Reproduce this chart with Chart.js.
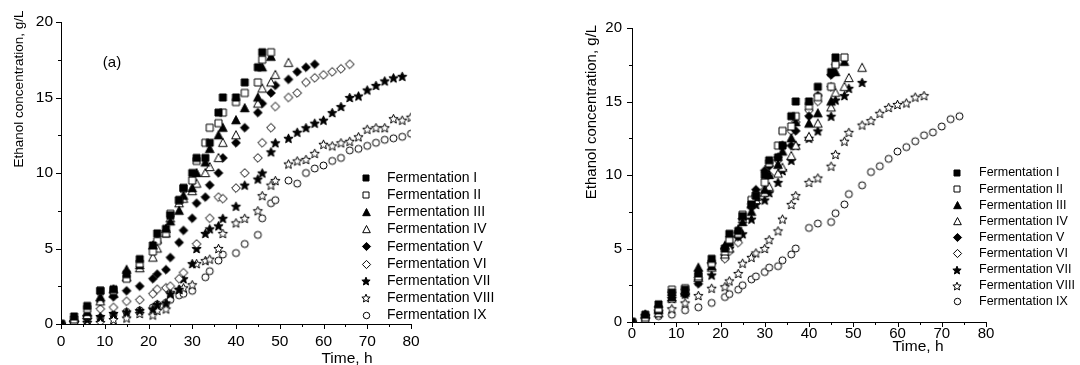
<!DOCTYPE html>
<html>
<head>
<meta charset="utf-8">
<script src="https://cdn.jsdelivr.net/npm/chart.js@4.4.1/dist/chart.umd.min.js"></script>
<style>
  html, body { margin: 0; padding: 0; background: #fff; overflow: hidden; }
  #wrap { position: relative; width: 1080px; height: 365px; overflow: hidden; }
  .box { position: absolute; top: 0; width: 540px; height: 375px; }
  #boxA { left: 0; }
  #boxB { left: 540px; }
</style>
</head>
<body>
<div id="wrap">
  <div class="box" id="boxA"><canvas id="chartA" width="540" height="375"></canvas></div>
  <div class="box" id="boxB"><canvas id="chartB" width="540" height="375"></canvas></div>
</div>
<script>
// sampling times (h), shared by every series; a series stops where its values stop
const times = [0,3,6,9,12,15,18,21,22,24,25,27,28,30,31,33,34,36,37,40,42,45,46,48,49,52,54,56,58,60,62,64,66,68,70,72,74,76,78,80];

const seriesLabels = ['Fermentation I','Fermentation II','Fermentation III','Fermentation IV','Fermentation V',
  'Fermentation VI','Fermentation VII','Fermentation VIII','Fermentation IX'];

// panel (a) - ethanol, g/L
const fermA1 = [0,0.5,1.2,2.2,2.3,3.3,4.3,5.2,6.0,6.3,7.2,8.2,9.0,10.0,11.0,11.0,12.0,14.0,15.0,15.0,16.0,17.0,18.0];
const fermA2 = [0,0.3,1.0,2.2,2.2,3.0,4.0,4.8,5.5,6.0,7.3,8.2,9.0,9.5,10.8,12.0,13.0,13.3,14.0,14.7,15.3,16.0,17.5,18.0];
const fermA3 = [0,0.4,0.8,1.8,2.0,3.6,3.9,5.2,5.6,6.3,6.8,7.5,8.5,9.0,10.0,10.7,11.6,12.5,13.0,13.5,14.3,15.0,17.0,17.7];
const fermA4 = [0,0.2,0.6,1.5,2.3,3.1,3.7,4.4,5.0,6.0,7.0,8.0,8.3,8.8,9.3,10.0,10.4,11.0,12.0,12.5,null,14.6,15.6,16.0,16.5,17.3];
const fermA5 = [0,0.2,0.5,1.5,1.8,2.2,2.5,3.0,3.3,3.6,4.4,5.4,6.2,7.0,8.0,8.4,9.2,10.0,11.0,12.0,13.0,14.0,14.6,15.3,15.8,16.2,16.7,17.0,17.2];
const fermA6 = [0,0.2,0.5,1.0,1.1,1.5,1.6,2.0,2.3,2.4,2.5,3.0,3.4,null,5.3,null,7.0,8.4,8.3,9.0,10.0,11.0,12.0,13.0,14.4,15.0,15.3,16.0,16.3,16.5,16.7,16.9,17.2];
const fermA7 = [0,0.1,0.3,0.5,0.7,0.8,0.9,1.0,1.3,1.4,2.0,2.3,3.0,4.0,5.0,6.0,6.3,6.5,7.0,7.8,9.2,9.6,10.0,11.4,12.0,12.3,12.7,13.0,13.3,13.5,14.0,14.4,15.0,15.1,15.5,15.8,16.1,16.3,16.4];
const fermA8 = [0,0.1,0.1,0.1,0.3,0.4,0.7,0.6,0.9,1.0,2.1,2.3,2.4,2.6,4.0,4.2,4.3,5.0,6.0,6.7,7.0,7.5,8.5,9.2,9.5,10.6,10.8,10.9,11.3,11.9,11.8,12.0,12.1,12.4,12.9,13.0,13.0,13.6,13.5,13.7];
const fermA9 = [0,0.1,0.2,0.4,0.6,0.8,0.9,1.1,1.3,1.4,1.6,1.9,2.0,2.2,null,3.1,3.5,4.2,4.6,4.7,5.3,5.9,7.0,8.0,8.2,9.5,9.3,10.0,10.3,10.5,10.8,11.0,11.5,11.6,11.8,12.0,12.2,12.3,12.4,12.6];

// panel (b) - ethanol, g/L
const fermB1 = [0,0.5,1.2,2.0,2.2,3.3,4.3,5.0,6.0,6.2,7.2,8.0,8.6,10.0,11.0,11.2,12.0,14.0,15.0,15.0,16.0,17.0,18.0];
const fermB2 = [0,0.3,0.9,2.2,2.3,3.1,4.0,4.8,5.6,6.0,7.3,8.3,8.6,9.5,10.8,12.0,13.0,13.3,14.0,14.7,15.3,16.0,17.5,18.0];
const fermB3 = [0,0.5,0.8,1.7,2.0,3.7,3.8,5.2,5.4,6.3,6.8,7.5,8.5,9.0,10.0,10.7,11.6,12.5,13.6,13.5,14.2,15.0,17.0,17.7];
const fermB4 = [0,0.2,0.6,1.6,2.1,3.0,3.7,4.6,5.0,6.0,7.0,8.0,8.3,8.8,9.2,10.1,10.5,11.3,12.0,12.6,13.5,14.6,15.6,16.0,16.6,17.3];
const fermB5 = [0,0.5,1.0,1.8,1.9,2.6,4.0,5.0,5.3,5.8,7.0,7.8,9.0,10.3,10.6,11.2,12.0,12.0,13.0,14.0,15.4,16.8];
const fermB6 = [0,0.3,0.8,2.0,2.2,3.0,4.0,4.3,4.8,5.4,7.0,8.0,8.6,9.0,10.0,11.0,12.0,13.0,13.6,14.4,15.0,16.0,17.5];
const fermB7 = [0,0.4,0.7,1.6,1.9,2.8,3.2,4.5,5.0,5.8,6.0,7.0,8.0,8.3,8.8,9.5,10.3,11.0,12.0,12.5,13.0,14.0,15.1,15.4,15.9,16.3];
const fermB8 = [0,0.2,0.6,0.9,1.3,1.8,2.3,2.4,2.8,3.3,4.0,4.4,4.7,5.0,5.6,6.2,7.0,8.0,8.6,9.5,9.8,10.6,11.4,12.3,12.9,13.4,13.7,14.2,14.6,14.8,14.9,15.3,15.4];
const fermB9 = [0,0.2,0.4,0.5,0.8,1.0,1.3,1.7,1.9,2.2,2.5,2.9,3.1,3.4,3.7,3.8,4.2,4.6,5.0,6.4,6.7,6.8,7.4,8.0,8.7,9.3,10.2,10.6,11.1,11.6,11.9,12.3,12.7,12.9,13.3,13.8,14.0];

const xTicksMax = 80, xStep = 10;
const yTicksMax = 20, yStep = 5;

const FONT = "'Liberation Sans', Arial, Helvetica, sans-serif";
Chart.defaults.font.family = FONT;
Chart.defaults.color = '#000';

// marker look for each series
const markerKinds = [['square',true],['square',false],['triangle',true],['triangle',false],
  ['diamond',true],['diamond',false],['star',true],['star',false],['circle',false]];

function marker(shape, filled, s) {
  const c = document.createElement('canvas');
  const n = Math.ceil(s) + 4;
  c.width = n; c.height = n;
  const g = c.getContext('2d');
  const m = n / 2;
  g.lineWidth = 1;
  g.strokeStyle = '#000';
  g.fillStyle = filled ? '#000' : '#fff';
  g.beginPath();
  if (shape === 'square') {
    g.rect(m - s / 2, m - s / 2, s, s);
  } else if (shape === 'triangle') {
    g.moveTo(m, m - s / 2 - 0.5);
    g.lineTo(m + s / 2 + 0.3, m + s / 2 - 0.3);
    g.lineTo(m - s / 2 - 0.3, m + s / 2 - 0.3);
    g.closePath();
  } else if (shape === 'diamond') {
    const r = s / 2 + 0.6;
    g.moveTo(m, m - r); g.lineTo(m + r, m); g.lineTo(m, m + r); g.lineTo(m - r, m);
    g.closePath();
  } else if (shape === 'star') {
    const R = s / 2 + 0.6, r = R * 0.45;
    for (let i = 0; i < 10; i++) {
      const ang = -Math.PI / 2 + i * Math.PI / 5;
      const rr = i % 2 ? r : R;
      g.lineTo(m + rr * Math.cos(ang), m + rr * Math.sin(ang) + 0.5);
    }
    g.closePath();
  } else {
    g.arc(m, m, s / 2, 0, Math.PI * 2);
  }
  g.fill();
  g.stroke();
  return c;
}

const plotSizes = {square: 7, triangle: 8, diamond: 7.5, star: 8.5, circle: 7};
const legendSizes = {square: 6, triangle: 7, diamond: 7, star: 7.5, circle: 6.5};

function makeDatasets(valueLists) {
  return valueLists.map((vals, i) => {
    const [shape, filled] = markerKinds[i];
    const pts = [];
    vals.forEach((v, k) => { if (v !== null) pts.push({x: times[k], y: v}); });
    return {
      label: seriesLabels[i],
      data: pts,
      pointStyle: marker(shape, filled, plotSizes[shape]),
      legendIcon: marker(shape, filled, legendSizes[shape]),
      pointRadius: 4,
      pointHoverRadius: 4,
      showLine: false,
      clip: 0
    };
  });
}

// ticks (major + minor), axis titles, panel tag and the side legend
const panelDecor = {
  id: 'panelDecor',
  afterDraw(chart, args, o) {
    const {ctx, chartArea: ca} = chart;
    const xs = chart.scales.x, ys = chart.scales.y;
    ctx.save();
    ctx.strokeStyle = '#000';
    ctx.lineWidth = 1;
    ctx.beginPath();
    for (let v = 0; v <= xTicksMax; v += xStep / 2) {
      const px = Math.round(xs.getPixelForValue(v)) + 0.5;
      const len = v % xStep === 0 ? o.major : o.minor;
      ctx.moveTo(px, ca.bottom);
      ctx.lineTo(px, ca.bottom + o.xTickDir * len);
    }
    for (let v = 0; v <= yTicksMax; v += yStep / 2) {
      const py = Math.round(ys.getPixelForValue(v)) + 0.5;
      const len = v % yStep === 0 ? o.major : o.minor;
      ctx.moveTo(ca.left, py);
      ctx.lineTo(ca.left - len, py);
    }
    ctx.stroke();

    ctx.fillStyle = '#000';
    ctx.textBaseline = 'middle';
    ctx.textAlign = 'center';
    ctx.font = o.yTitle.size + 'px ' + FONT;
    ctx.save();
    ctx.translate(o.yTitle.x, o.yTitle.y);
    ctx.rotate(-Math.PI / 2);
    ctx.fillText(o.yTitle.text, 0, 0);
    ctx.restore();

    ctx.font = o.xTitle.size + 'px ' + FONT;
    ctx.fillText(o.xTitle.text, o.xTitle.x, o.xTitle.y);

    if (o.tag) {
      ctx.font = o.tag.size + 'px ' + FONT;
      ctx.fillText(o.tag.text, o.tag.x, o.tag.y);
    }

    ctx.textAlign = 'left';
    ctx.font = o.legend.size + 'px ' + FONT;
    chart.data.datasets.forEach((ds, i) => {
      const yy = o.legend.y + i * o.legend.dy;
      const img = ds.legendIcon;
      ctx.drawImage(img, Math.round(o.legend.x - img.width / 2), Math.round(yy - img.height / 2));
      ctx.fillText(ds.label, o.legend.textX, yy);
    });
    ctx.restore();
  }
};

function buildChart(id, valueLists, lay) {
  return new Chart(document.getElementById(id), {
    type: 'scatter',
    data: { datasets: makeDatasets(valueLists) },
    options: {
      responsive: false,
      animation: false,
      events: [],
      layout: { padding: { left: 0, top: lay.top, right: lay.right, bottom: 0 } },
      plugins: {
        legend: { display: false },
        tooltip: { enabled: false },
        panelDecor: lay.decor
      },
      scales: {
        x: {
          type: 'linear', min: 0, max: xTicksMax,
          afterFit: s => { s.height = lay.xH; },
          ticks: { stepSize: xStep, padding: lay.xPad, maxRotation: 0, autoSkip: false,
                   font: { size: lay.tick }, color: '#000' },
          grid: { display: false, drawTicks: false },
          border: { display: true, color: '#000', width: 1 }
        },
        y: {
          type: 'linear', min: 0, max: yTicksMax,
          afterFit: s => { s.width = lay.yW; },
          ticks: { stepSize: yStep, padding: lay.yPad, font: { size: lay.tick }, color: '#000' },
          grid: { display: false, drawTicks: false },
          border: { display: true, color: '#000', width: 1 }
        }
      }
    },
    plugins: [panelDecor]
  });
}

buildChart('chartA', [fermA1,fermA2,fermA3,fermA4,fermA5,fermA6,fermA7,fermA8,fermA9], {
  top: 22, right: 129, yW: 61, xH: 51, xPad: 8, yPad: 8, tick: 15.5,
  decor: {
    major: 5, minor: 3, xTickDir: 1,
    yTitle: { text: 'Ethanol concentration, g/L', x: 19, y: 89, size: 13.5 },
    xTitle: { text: 'Time, h', x: 347, y: 359, size: 15.5 },
    tag: { text: '(a)', x: 112, y: 63, size: 15 },
    legend: { x: 366, textX: 387, y: 178, dy: 17.2, size: 14 }
  }
});

buildChart('chartB', [fermB1,fermB2,fermB3,fermB4,fermB5,fermB6,fermB7,fermB8,fermB9], {
  top: 28, right: 94, yW: 92, xH: 53, xPad: 3, yPad: 10, tick: 15,
  decor: {
    major: 5, minor: 3, xTickDir: 1,
    yTitle: { text: 'Ethanol concentration, g/L', x: 52, y: 112, size: 15 },
    xTitle: { text: 'Time, h', x: 378, y: 347, size: 15.5 },
    legend: { x: 417, textX: 439, y: 173, dy: 16.1, size: 12.5 }
  }
});
</script>
</body>
</html>
